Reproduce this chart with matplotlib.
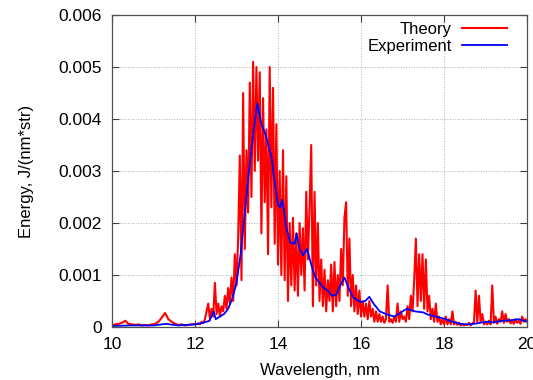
import numpy as np
import matplotlib.pyplot as plt
from matplotlib.ticker import FuncFormatter

'''Data (energies in units of 1e-3 J/(nm*str))'''

# theory, 10 - 12 nm, step 0.08
theory_low = [0.03, 0.05, 0.06, 0.08, 0.12, 0.06, 0.05, 0.04, 0.05, 0.03,
              0.04, 0.03, 0.05, 0.06, 0.10, 0.18, 0.27, 0.15, 0.10, 0.06,
              0.04, 0.05, 0.03, 0.04, 0.05, 0.06]

# theory, 12.04 - 18 nm, step 0.04
theory_main = [
    # 12.04 - 13.00
    0.05, 0.07, 0.05, 0.10, 0.08, 0.15, 0.30, 0.45, 0.15, 0.35,
    0.20, 0.85, 0.25, 0.45, 0.20, 0.40, 0.30, 0.60, 0.35, 0.75,
    0.45, 0.95, 0.50, 1.40, 0.80,
    # 13.04 - 14.00
    1.7, 3.3, 0.9, 4.5, 1.5, 3.4, 2.2, 4.7, 2.5, 5.1,
    3.0, 5.0, 3.2, 4.9, 1.8, 4.4, 2.4, 3.8, 1.4, 5.0,
    2.3, 4.6, 1.6, 3.9, 1.2,
    # 14.04 - 15.00
    3.0, 1.0, 3.4, 0.9, 2.9, 0.5, 2.0, 0.8, 2.1, 0.7,
    1.8, 0.6, 2.0, 1.0, 1.9, 0.7, 2.6, 1.3, 2.3, 3.5,
    0.4, 2.6, 0.8, 2.0, 0.5,
    # 15.04 - 16.00
    1.3, 0.4, 1.1, 0.3, 0.9, 0.5, 1.2, 0.3, 1.25, 0.4,
    1.0, 0.5, 1.5, 0.8, 2.1, 2.4, 0.6, 1.7, 0.4, 1.0,
    0.3, 0.8, 0.25, 0.7, 0.2,
    # 16.04 - 17.00
    0.5, 0.2, 0.45, 0.15, 0.5, 0.2, 0.35, 0.1, 0.3, 0.1,
    0.25, 0.1, 0.2, 0.08, 0.15, 0.8, 0.1, 0.15, 0.08, 0.2,
    0.1, 0.45, 0.1, 0.3, 0.15,
    # 17.04 - 18.00
    0.2, 0.1, 0.4, 0.15, 0.6, 0.3, 0.9, 1.7, 0.4, 1.4,
    0.5, 1.4, 0.35, 1.3, 0.3, 0.6, 0.15, 0.35, 0.1, 0.45,
    0.1, 0.2, 0.05, 0.15, 0.05,
]

# theory, 18.04 - 20 nm, step 0.04
theory_tail = [0.2, 0.05, 0.15, 0.05, 0.3, 0.05, 0.1, 0.04, 0.08, 0.03,
               0.06, 0.03, 0.05, 0.04, 0.08, 0.03, 0.06, 0.1, 0.7, 0.08,
               0.6, 0.1, 0.25, 0.05, 0.1, 0.05, 0.12, 0.05, 0.8, 0.08,
               0.2, 0.06, 0.15, 0.1, 0.3, 0.08, 0.25, 0.1, 0.15, 0.07,
               0.12, 0.06, 0.15, 0.08, 0.12, 0.06, 0.2, 0.1, 0.15, 0.12]

exp_wl = [10.0, 10.5, 11.0, 11.3, 11.6, 12.0, 12.2, 12.35, 12.45, 12.5,
          12.6, 12.7, 12.8, 12.9, 13.0, 13.1, 13.2, 13.3, 13.4, 13.5,
          13.55, 13.6, 13.7, 13.8, 13.85, 13.9, 14.0, 14.05, 14.1, 14.15,
          14.2, 14.3, 14.4, 14.45, 14.5, 14.6, 14.7, 14.8, 14.9, 15.0,
          15.1, 15.2, 15.3, 15.4, 15.5, 15.6, 15.7, 15.8, 15.9, 16.0,
          16.1, 16.2, 16.3, 16.45, 16.6, 16.8, 17.0, 17.1, 17.3, 17.5,
          17.6, 17.8, 18.0, 18.2, 18.4, 18.6, 18.8, 19.0, 19.2, 19.4,
          19.6, 19.8, 20.0]
exp_energy = [0.02, 0.03, 0.03, 0.06, 0.03, 0.05, 0.08, 0.12, 0.30, 0.15,
              0.2, 0.25, 0.35, 0.55, 0.85, 1.4, 2.2, 3.0, 3.7, 4.3,
              4.1, 3.9, 3.7, 3.4, 3.25, 2.9, 2.35, 2.3, 2.45, 2.2,
              1.9, 1.62, 1.6, 1.8, 1.55, 1.38, 1.5, 1.2, 0.95, 0.85,
              0.75, 0.7, 0.6, 0.62, 0.8, 0.95, 0.75, 0.58, 0.52, 0.48,
              0.5, 0.58, 0.45, 0.3, 0.25, 0.2, 0.3, 0.35, 0.3, 0.28,
              0.24, 0.2, 0.16, 0.1, 0.06, 0.05, 0.07, 0.1, 0.09, 0.12,
              0.13, 0.15, 0.1]

theory_wl = np.concatenate([np.linspace(10.0, 12.0, len(theory_low)),
                            np.linspace(12.04, 18.0, len(theory_main)),
                            np.linspace(18.04, 20.0, len(theory_tail))])
theory_energy = 1e-3 * np.array(theory_low + theory_main + theory_tail)
exp_energy = 1e-3 * np.array(exp_energy)

'''Plot'''

plt.rcParams['font.family'] = ['Liberation Sans', 'DejaVu Sans']

fig = plt.figure(figsize=(5.33, 3.80), dpi=100)
ax = fig.add_axes([0.210, 0.1395, 0.779, 0.821])

ax.plot(theory_wl, theory_energy, color='red', linewidth=1.5, label='Theory')
ax.plot(exp_wl, exp_energy, color='blue', linewidth=1.3, label='Experiment')

ax.set_xlim(10, 20)
ax.set_ylim(0, 0.006)
ax.set_xticks(np.arange(10, 21, 2))
ax.set_yticks(np.arange(0, 0.0061, 0.001))
ax.yaxis.set_major_formatter(FuncFormatter(lambda v, p: '%g' % round(v, 4)))
ax.tick_params(direction='in', length=5, width=0.8, top=True, right=True,
               labelsize=12.5, color='#404040', pad=7)
for s in ax.spines.values():
    s.set_color('#505050')
    s.set_linewidth(0.9)
ax.grid(True, color='#b0b0b0', linestyle=':', linewidth=0.7)

ax.set_xlabel('Wavelength, nm', fontsize=12, labelpad=8)
ax.set_ylabel('Energy, J/(nm*str)', fontsize=12, labelpad=18)

ax.legend(loc='upper right', bbox_to_anchor=(0.967, 1.0), borderaxespad=0,
          borderpad=0.4, frameon=False, markerfirst=False, fontsize=12,
          handlelength=2.7, handletextpad=0.6, labelspacing=0.15)

plt.savefig('out.png', dpi=100)
